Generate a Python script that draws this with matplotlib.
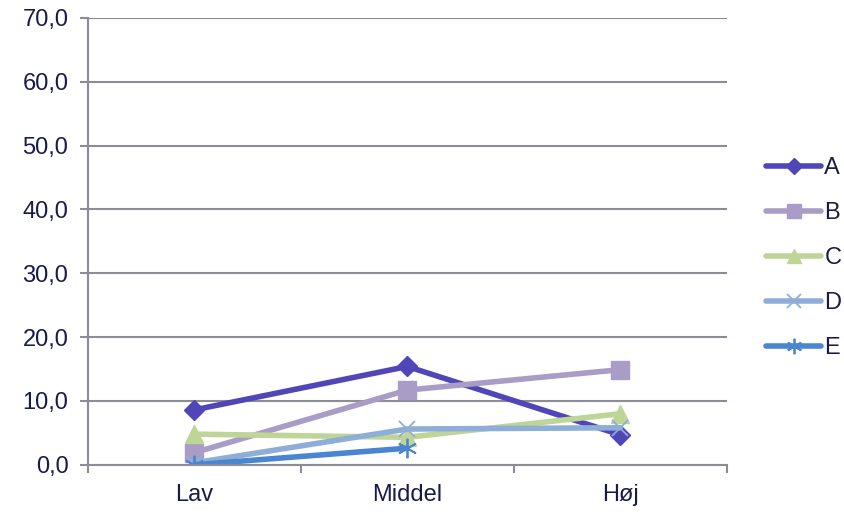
import numpy as np
import matplotlib.pyplot as plt
from matplotlib.ticker import FixedLocator, FuncFormatter

categories = ['Lav', 'Middel', 'Høj']
series_a = [8.6, 15.4, 4.7]
series_b = [1.9, 11.7, 14.9]
series_c = [4.8, 4.3, 8.0]
series_d = [0.3, 5.6, 5.8]
series_e = [0.0, 2.6]

textcol = '#1a1a4a'
gridcol = '#8c8c99'

fig = plt.figure(figsize=(8.45, 5.13), dpi=100)
ax = fig.add_axes([0.104, 0.094, 0.756, 0.871])

x = np.arange(len(categories))
styles = [
    ('A', series_a, '#5046b8', dict(marker='D', markersize=10)),
    ('B', series_b, '#a99cc7', dict(marker='s', markersize=13)),
    ('C', series_c, '#bfd597', dict(marker='^', markersize=13)),
    ('D', series_d, '#8eaed8', dict(marker='x', markersize=12, markeredgewidth=1.3)),
    ('E', series_e, '#4a86d0', dict(marker=(6, 2, 0), markersize=14, markeredgewidth=1.3)),
]
for name, vals, col, mk in styles:
    ax.plot(x[:len(vals)], vals, color=col, lw=4, solid_capstyle='round',
            label=name, markerfacecolor=col, markeredgecolor=col, **mk)

ax.set_xlim(-0.5, 2.5)
ax.set_ylim(0, 70)
ax.set_yticks(np.arange(0, 71, 10))
ax.yaxis.set_major_formatter(FuncFormatter(lambda v, p: f'{v:.1f}'.replace('.', ',')))
ax.set_xticks(x)
ax.set_xticklabels(categories)
ax.xaxis.set_minor_locator(FixedLocator([-0.5, 0.5, 1.5, 2.5]))
ax.tick_params(axis='x', which='major', length=0, pad=14)
ax.tick_params(axis='x', which='minor', length=6, color=gridcol, width=1.5)
ax.tick_params(axis='y', length=6, color=gridcol, width=1.5, pad=8)
ax.tick_params(labelsize=17, labelcolor=textcol)
for lab in ax.get_xticklabels() + ax.get_yticklabels():
    lab.set_fontfamily('Liberation Sans')

ax.grid(axis='y', color=gridcol, lw=1.5)
ax.set_axisbelow(True)
for s in ['top', 'right']:
    ax.spines[s].set_visible(False)
for s in ['left', 'bottom']:
    ax.spines[s].set_color(gridcol)
    ax.spines[s].set_linewidth(1.5)

handles, labels = ax.get_legend_handles_labels()
leg = fig.legend(handles, labels, loc='center left', bbox_to_anchor=(0.907, 0.497),
                 frameon=False, borderpad=0, borderaxespad=0,
                 prop={'family': 'Liberation Sans', 'size': 17}, labelspacing=0.97,
                 handlelength=2.3, handletextpad=0.15, markerscale=0.8)
for t in leg.get_texts():
    t.set_color(textcol)

fig.savefig('out.png', dpi=100)
